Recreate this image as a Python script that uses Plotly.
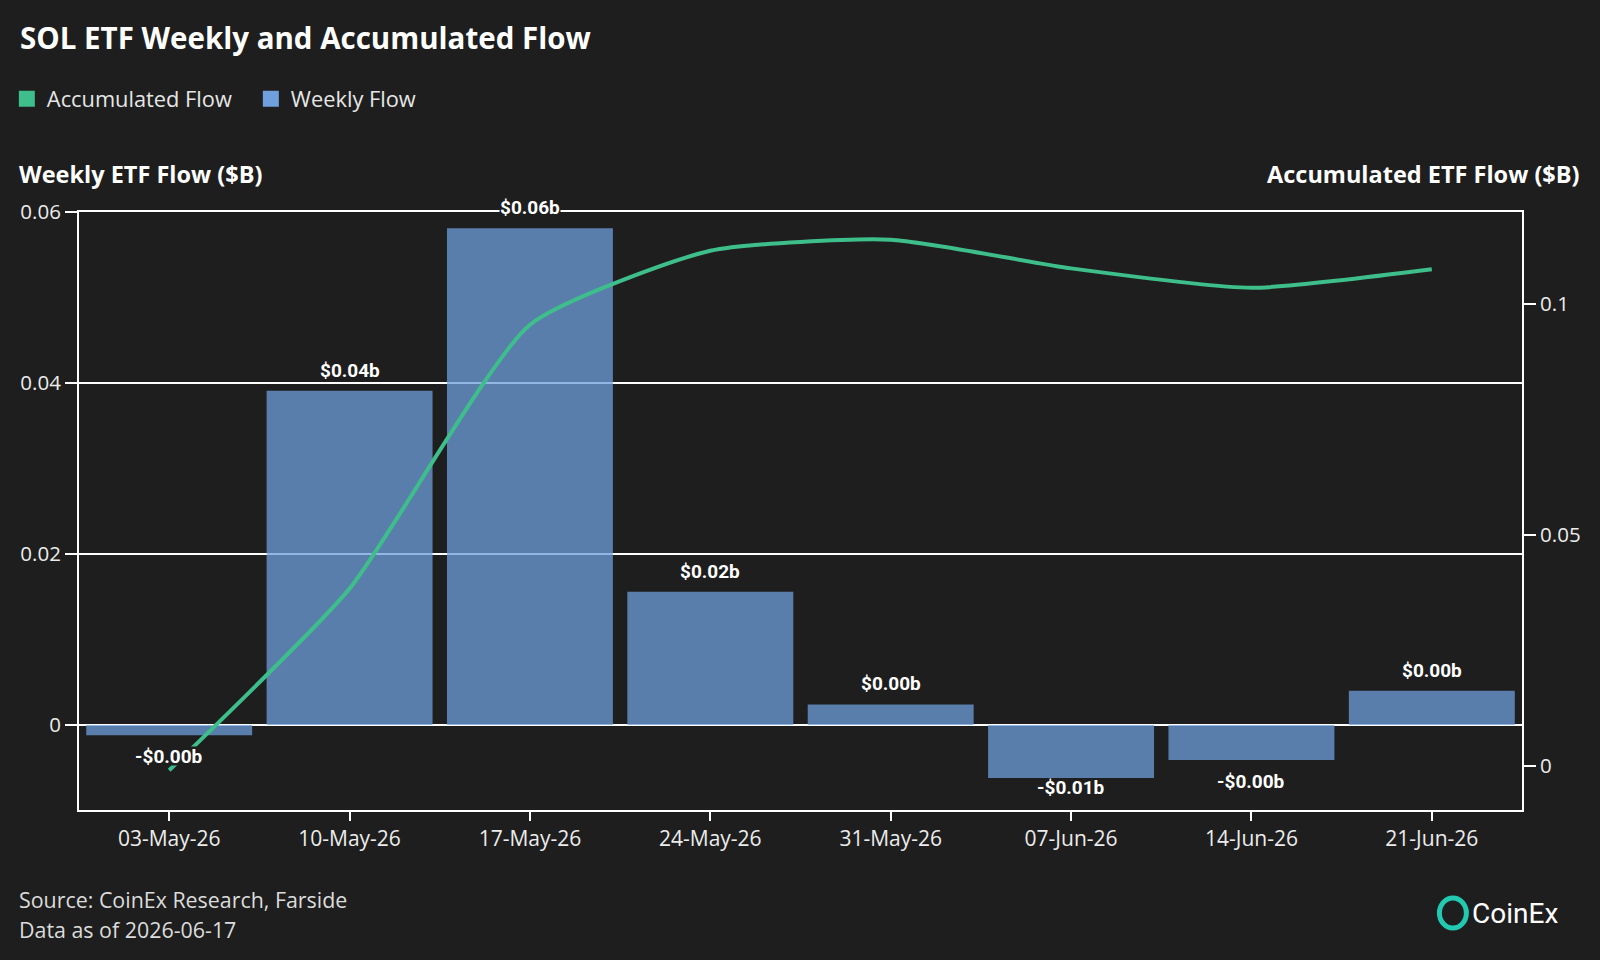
import plotly.graph_objects as go

# ---- data ----
weeks = ["03-May-26", "10-May-26", "17-May-26", "24-May-26",
         "31-May-26", "07-Jun-26", "14-Jun-26", "21-Jun-26"]
weekly_flow = [-0.0012, 0.0391, 0.0581, 0.0156, 0.0024, -0.0062, -0.0041, 0.0040]
accumulated_flow = [-0.0009, 0.0384, 0.0955, 0.1115, 0.1139, 0.1077, 0.1035, 0.1075]
left_ticks = [0, 0.02, 0.04, 0.06]
left_ticktext = ["0", "0.02", "0.04", "0.06"]
right_ticks = [0, 0.05, 0.1]
right_ticktext = ["0", "0.05", "0.1"]

BG = "#1e1e1e"
GREEN = "#3dbe8a"
BLUE = "#6f9fdc"
TXT = "#ececec"
FONT = "'Open Sans', sans-serif"

Y_MIN, Y_MAX = -0.00994, 0.06
PLOT_TOP, PLOT_BOTTOM = 212, 810


def fmt(v):
    s = f"${abs(v):.2f}b"
    return "-" + s if v < 0 else s


def label_shift(v):
    # keep value labels inside the plotting area
    px_per_unit = (PLOT_BOTTOM - PLOT_TOP) / (Y_MAX - Y_MIN)
    if v >= 0:
        return 21, False
    bar_px = PLOT_TOP + (Y_MAX - v) * px_per_unit
    room = (PLOT_BOTTOM - 23) - bar_px
    return -min(21, room), room < 21


fig = go.Figure()

fig.add_trace(go.Bar(
    x=weeks, y=weekly_flow, name="Weekly Flow",
    marker=dict(color=BLUE, opacity=0.75, line=dict(width=0)),
    width=0.92, showlegend=False, yaxis="y", hoverinfo="x+y",
))
fig.add_trace(go.Scatter(
    x=weeks, y=accumulated_flow, name="Accumulated Flow", mode="lines",
    line=dict(color=GREEN, width=4, shape="spline", smoothing=0.55),
    yaxis="y2", showlegend=False, cliponaxis=False,
))
# legend entries (square swatches)
fig.add_trace(go.Scatter(x=[None], y=[None], name="Accumulated Flow", mode="markers",
                         marker=dict(color=GREEN, symbol="square", size=18),
                         showlegend=True))
fig.add_trace(go.Scatter(x=[None], y=[None], name="Weekly Flow", mode="markers",
                         marker=dict(color=BLUE, symbol="square", size=18),
                         showlegend=True))

annotations = []
for w, v in zip(weeks, weekly_flow):
    shift, clamped = label_shift(v)
    annotations.append(dict(
        x=w, y=v, xref="x", yref="y", text=f"<b>{fmt(v)}</b>",
        showarrow=False, yshift=shift, height=18,
        font=dict(family="Roboto, sans-serif", size=19, color="#ffffff"),
        bgcolor="rgba(0,0,0,0)" if clamped else BG, borderpad=0,
    ))

annotations += [
    dict(text="<b>SOL ETF Weekly and Accumulated Flow</b>", xref="paper", yref="paper",
         x=-0.042, y=(810 - 38) / 598, xanchor="left", yanchor="middle", showarrow=False,
         font=dict(family=FONT, size=29.5, color="#ffffff")),
    dict(text="<b>Weekly ETF Flow ($B)</b>", xref="paper", yref="paper",
         x=-0.043, y=(810 - 174) / 598, xanchor="left", yanchor="middle", showarrow=False,
         font=dict(family=FONT, size=23.5, color="#ffffff")),
    dict(text="<b>Accumulated ETF Flow ($B)</b>", xref="paper", yref="paper",
         x=(1582 - 78.6) / 1443, y=(810 - 174) / 598, xanchor="right", yanchor="middle",
         showarrow=False, font=dict(family=FONT, size=23.5, color="#ffffff")),
    dict(text="Source: CoinEx Research, Farside", xref="paper", yref="paper",
         x=-0.043, y=(810 - 899) / 598, xanchor="left", yanchor="middle", showarrow=False,
         font=dict(family=FONT, size=21.4, color="#dcdcdc")),
    dict(text="Data as of 2026-06-17", xref="paper", yref="paper",
         x=-0.043, y=(810 - 929) / 598, xanchor="left", yanchor="middle", showarrow=False,
         font=dict(family=FONT, size=21.4, color="#dcdcdc")),
    dict(text="CoinEx", xref="paper", yref="paper",
         x=(1560 - 78.6) / 1443, y=(810 - 913) / 598, xanchor="right", yanchor="middle",
         showarrow=False, font=dict(family="Roboto, sans-serif", size=28, color="#ffffff")),
]

shapes = [
    dict(type="circle", xref="paper", yref="paper",
         x0=(1439 - 78.6) / 1443, x1=(1466 - 78.6) / 1443,
         y0=(810 - 928) / 598, y1=(810 - 898) / 598,
         line=dict(color="#22c8b0", width=5)),
]

fig.update_layout(
    width=1600, height=960,
    paper_bgcolor=BG, plot_bgcolor=BG,
    margin=dict(l=78.6, r=78.3, t=PLOT_TOP, b=960 - PLOT_BOTTOM, autoexpand=False),
    font=dict(family=FONT, color=TXT, size=19),
    bargap=0.08,
    showlegend=True,
    legend=dict(orientation="h", x=-0.050, y=(810 - 99) / 598, xanchor="left",
                yanchor="middle", font=dict(size=21.8, color="#e6e6e6"),
                bgcolor="rgba(0,0,0,0)", itemwidth=30, traceorder="normal",
                itemsizing="trace", entrywidth=199, entrywidthmode="pixels"),
    xaxis=dict(type="category", range=[-0.5, 7.5], showgrid=False,
               showline=True, mirror=True, linecolor="#ffffff", linewidth=2,
               ticks="outside", ticklen=9, tickcolor="#ffffff", tickwidth=2,
               tickfont=dict(size=21, color=TXT), zeroline=False),
    yaxis=dict(range=[Y_MIN, Y_MAX], tickvals=left_ticks, ticktext=left_ticktext,
               showgrid=True, gridcolor="#ffffff", gridwidth=2,
               showline=True, linecolor="#ffffff", linewidth=2,
               ticks="outside", ticklen=12, tickcolor="#ffffff", tickwidth=2,
               tickfont=dict(size=20.5, color=TXT), zeroline=False),
    yaxis2=dict(range=[-0.0095, 0.1199], tickvals=right_ticks, ticktext=right_ticktext,
                overlaying="y", side="right", showgrid=False,
                showline=True, linecolor="#ffffff", linewidth=2,
                ticks="outside", ticklen=12, tickcolor="#ffffff", tickwidth=2,
                tickfont=dict(size=20.5, color=TXT), zeroline=False),
    annotations=annotations,
    shapes=shapes,
)

fig.write_html("out.html")
